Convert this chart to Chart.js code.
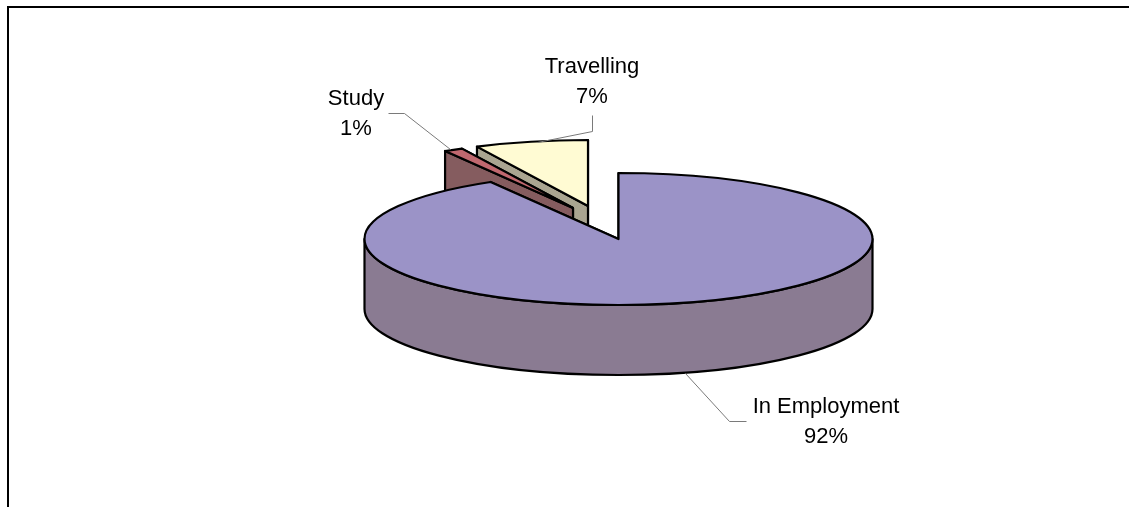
<!DOCTYPE html>
<html>
<head>
<meta charset="utf-8">
<style>
html,body{margin:0;padding:0;background:#fff;}
#wrap{position:absolute;left:0;top:0;width:1129px;height:507px;}
</style>
<script src="https://cdn.jsdelivr.net/npm/chart.js@4/dist/chart.umd.min.js"></script>
</head>
<body>
<div id="wrap"><canvas id="c" width="1129" height="507"></canvas></div>
<script>
const categories = ['In Employment', 'Study', 'Travelling'];
const shares = [91.6, 1.2, 7.2];

const topColors = ['#9b93c7', '#c0686f', '#fffbd3'];
const wallColors = ['#8a7b92', '#855c5f', '#aaa591'];
const explode = [[0, 0], [-45.5, -31], [-30.5, -33]];
const squash = 66 / 254;
const depth = 70;
const labelPlace = [[826, 413, 443], [356, 105, 135], [592, 73, 103]];
const leaders = [
  [[685, 373], [729, 421], [746, 421]],
  [[388, 113], [404, 113], [450, 149]],
  [[592, 115], [592, 131], [537, 142]]
];

const pie3d = {
  id: 'pie3d',
  beforeDraw(chart) {
    const ctx = chart.ctx;
    ctx.save();
    ctx.strokeStyle = '#000';
    ctx.lineWidth = 2;
    ctx.beginPath();
    ctx.moveTo(8, 507);
    ctx.lineTo(8, 7);
    ctx.lineTo(1129, 7);
    ctx.stroke();
    ctx.restore();
  },
  beforeDatasetsDraw(chart) {
    const ctx = chart.ctx;
    const arcs = chart.getDatasetMeta(0).data;
    // far slices first, the main slice last
    for (const i of [2, 1, 0]) {
      const el = arcs[i];
      const props = el.getProps(['x', 'y', 'startAngle', 'endAngle', 'outerRadius'], true);
      const cx = props.x + explode[i][0];
      const cy = props.y + explode[i][1];
      const rx = props.outerRadius;
      const ry = rx * squash;
      const a0 = props.startAngle, a1 = props.endAngle;
      const rim = a => [cx + rx * Math.cos(a), cy + ry * Math.sin(a)];

      ctx.save();
      ctx.lineWidth = 2.2;
      ctx.lineJoin = 'round';
      ctx.strokeStyle = '#000';

      // radial faces
      ctx.fillStyle = wallColors[i];
      for (const a of [a1, a0]) {
        const p = rim(a);
        ctx.beginPath();
        ctx.moveTo(cx, cy);
        ctx.lineTo(p[0], p[1]);
        ctx.lineTo(p[0], p[1] + depth);
        ctx.lineTo(cx, cy + depth);
        ctx.closePath();
        ctx.fill();
        ctx.stroke();
      }

      // front rim wall
      const f0 = Math.max(a0, 0), f1 = Math.min(a1, Math.PI);
      if (f1 > f0) {
        ctx.beginPath();
        ctx.ellipse(cx, cy, rx, ry, 0, f0, f1);
        ctx.ellipse(cx, cy + depth, rx, ry, 0, f1, f0, true);
        ctx.closePath();
        ctx.fill();
        ctx.stroke();
      }

      // top face, filled by the library's arc element
      ctx.save();
      ctx.translate(cx, cy);
      ctx.scale(1, squash);
      ctx.translate(-props.x, -props.y);
      el.draw(ctx);
      ctx.restore();

      // top outline, unscaled so the line keeps its weight
      ctx.beginPath();
      ctx.moveTo(cx, cy);
      ctx.ellipse(cx, cy, rx, ry, 0, a0, a1);
      ctx.closePath();
      ctx.stroke();
      ctx.restore();
    }
    return false;
  },
  afterDraw(chart) {
    const ctx = chart.ctx;
    const total = shares.reduce((s, v) => s + v, 0);
    ctx.save();
    ctx.strokeStyle = '#7a7a7a';
    ctx.lineWidth = 1;
    leaders.forEach(pts => {
      ctx.beginPath();
      pts.forEach((p, k) => k ? ctx.lineTo(p[0] + .5, p[1] + .5) : ctx.moveTo(p[0] + .5, p[1] + .5));
      ctx.stroke();
    });
    ctx.fillStyle = '#000';
    ctx.font = '22px "Liberation Sans", Arial, sans-serif';
    ctx.textAlign = 'center';
    ctx.textBaseline = 'alphabetic';
    categories.forEach((name, i) => {
      const [x, y1, y2] = labelPlace[i];
      ctx.fillText(name, x, y1);
      ctx.fillText(Math.round(shares[i] / total * 100) + '%', x, y2);
    });
    ctx.restore();
  }
};

new Chart(document.getElementById('c'), {
  type: 'pie',
  data: {
    labels: categories,
    datasets: [{
      data: shares,
      backgroundColor: topColors,
      borderWidth: 0,
      radius: 254
    }]
  },
  options: {
    responsive: false,
    animation: false,
    layout: { padding: { left: 108, bottom: 29 } },
    plugins: { legend: { display: false }, tooltip: { enabled: false } }
  },
  plugins: [pie3d]
});
</script>
</body>
</html>
